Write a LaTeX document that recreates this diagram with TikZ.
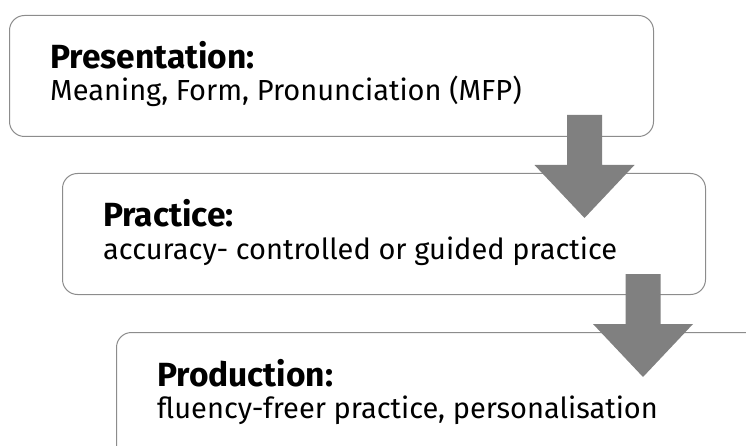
\documentclass[tikz,border=0pt]{standalone}
\usepackage{fontspec}
\setmainfont{Fira Sans}
\usetikzlibrary{positioning}

\tikzset{
  stage/.style={draw=black!45, line width=1pt, rounded corners=15pt, fill=white,
    inner sep=0pt, anchor=north west},
  title/.style={anchor=base west, inner sep=0pt, font=\fontsize{33.5}{36}\selectfont\bfseries},
  detail/.style={anchor=base west, inner sep=0pt, font=\fontsize{29}{32}\selectfont},
  bigarrow/.style={fill=black!50, draw=none},
}

\begin{document}
\begin{tikzpicture}[x=1pt,y=-1pt]
  \useasboundingbox (0,0) rectangle (746,446);
  \clip (0,0) rectangle (746,446);

  % the three stages
  \node[stage, minimum width=644pt, minimum height=121pt] (pres) at (9,15) {};
  \node[stage, minimum width=643pt, minimum height=121pt] (prac) at (62,173) {};
  \node[stage, minimum width=680pt, minimum height=150pt] (prod) at (116,332) {};

  \node[title] (presT) at ([xshift=41pt,yshift=-54pt]pres.north west) {Presentation:};
  \node[detail] (presD) at ([xshift=41pt,yshift=-86pt]pres.north west) {Meaning, Form, Pronunciation (MFP)};
  \node[title] (pracT) at ([xshift=41pt,yshift=-54pt]prac.north west) {Practice:};
  \node[detail] (pracD) at ([xshift=41pt,yshift=-86pt]prac.north west) {accuracy- controlled or guided practice};
  \node[title] (prodT) at ([xshift=41pt,yshift=-54pt]prod.north west) {Production:};
  \node[detail] (prodD) at ([xshift=41pt,yshift=-86pt]prod.north west) {fluency-freer practice, personalisation};

  % block arrows between the stages
  \coordinate (a1) at ([xshift=-69.5pt,yshift=22pt]pres.south east);
  \coordinate (a2) at ([xshift=-63pt,yshift=21pt]prac.south east);
  \foreach \a in {a1,a2} {
    \fill[bigarrow] (\a) ++(-17.5,0) -- ++(35,0) -- ++(0,50) -- ++(32.5,0)
      -- ++(-50,53) -- ++(-50,-53) -- ++(32.5,0) -- cycle;
  }
\end{tikzpicture}
\end{document}
